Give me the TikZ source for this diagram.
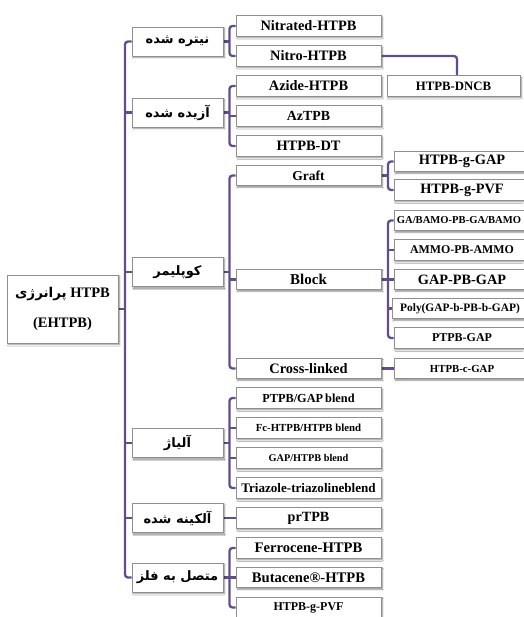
\documentclass[tikz,border=0pt]{standalone}
\usepackage{fontspec}
\setmainfont{Liberation Serif}
\newfontfamily\fafont[Script=Arabic]{DejaVu Sans}
\TeXXeTstate=1
\usetikzlibrary{shadows.blur,backgrounds}
\definecolor{conncol}{HTML}{624D8C}
\definecolor{boxline}{HTML}{8F8F8F}
\newcommand{\fatext}[1]{{\fafont\bfseries\beginR #1\endR}}
\begin{document}
\begin{tikzpicture}[x=1pt,y=-1pt,
  box/.style={draw=boxline, line width=0.6pt, fill=white, inner sep=0pt, align=center,
    blur shadow={shadow xshift=1.4pt, shadow yshift=-1.6pt, shadow blur radius=1.4pt, shadow blur steps=6, shadow opacity=45}},
  fs/.style={font=\bfseries\fontsize{#1pt}{#1pt}\selectfont},
  lone/.style={box, minimum width=91pt, minimum height=29pt, fs=13},
  ltwo/.style={box, minimum width=145pt, minimum height=20.5pt, fs=14.4},
  lthree/.style={box, minimum width=136pt, minimum height=20.5pt, fs=14.4},
  conn/.style={draw=conncol, line width=2.3pt, rounded corners=3pt}]
\useasboundingbox (0,0) rectangle (523,617);
\coordinate (tr) at (125,0);
\coordinate (bx) at (229.5,0);
\coordinate (cx) at (388,0);
% root
\node[box, minimum width=111pt, minimum height=68pt, font=\bfseries\fontsize{14.5pt}{30pt}\selectfont] (root) at (62.5,309) {\fatext{\fontsize{13.5pt}{30pt}\selectfont پرانرژی} HTPB\\(EHTPB)};
% level 1
\node[lone] (A) at (177.5,41.5) {\fatext{نیتره شده}};
\node[lone] (B) at (177.5,112.5) {\fatext{آزیده شده}};
\node[lone] (C) at (177.5,272) {\fatext{کوپلیمر}};
\node[lone] (D) at (177.5,443) {\fatext{آلیاژ}};
\node[lone] (E) at (177.5,518) {\fatext{آلکینه شده}};
\node[lone] (F) at (177.5,577.5) {\fatext{متصل به فلز}};
% level 2
\node[ltwo] (a1) at (308.5,26) {Nitrated-HTPB};
\node[ltwo] (a2) at (308.5,56) {Nitro-HTPB};
\node[ltwo] (b1) at (308.5,86) {Azide-HTPB};
\node[ltwo, fs=13.9] (b2) at (308.5,116) {AzTPB};
\node[ltwo] (b3) at (308.5,146) {HTPB-DT};
\node[ltwo, fs=13.6] (c1) at (308.5,175.5) {Graft};
\node[ltwo, fs=15] (c2) at (308.5,279.5) {Block};
\node[ltwo] (c3) at (308.5,368.5) {Cross-linked};
\node[ltwo, fs=12.3] (d1) at (308.5,398) {PTPB/GAP\,blend};
\node[ltwo, fs=10.8] (d2) at (308.5,428) {Fc-HTPB/HTPB blend};
\node[ltwo, fs=10.3] (d3) at (308.5,458) {GAP/HTPB blend};
\node[ltwo, fs=13.1] (d4) at (308.5,488) {Triazole-triazolineblend};
\node[ltwo, fs=14.1] (e1) at (308.5,518) {prTPB};
\node[ltwo, fs=14.6] (f1) at (308.5,548) {Ferrocene-HTPB};
\node[ltwo, fs=14.6] (f2) at (308.5,577.5) {Butacene®-HTPB};
\node[ltwo, fs=12] (f3) at (308.5,607.5) {HTPB-g-PVF};
% level 3
\node[box, minimum width=133pt, minimum height=20.5pt, fs=12.8] (dn) at (453.5,86) {HTPB-DNCB};
\node[lthree] (g1) at (462,161.5) {HTPB-g-GAP};
\node[lthree, fs=14.3] (g2) at (462,190) {HTPB-g-PVF};
\node[lthree, fs=10.6] (h1) at (462,220.5) {\makebox[0pt]{\hspace*{-6pt}GA/BAMO-PB-GA/BAMO}};
\node[lthree, fs=11.9] (h2) at (462,250) {AMMO-PB-AMMO};
\node[lthree, fs=14.3] (h3) at (462,279.5) {GAP-PB-GAP};
\node[lthree, fs=11.4] (h4) at (460,308.5) {Poly(GAP-b-PB-b-GAP)};
\node[lthree, fs=12] (h5) at (462,338) {PTPB-GAP};
\node[lthree, fs=10.8] (i1) at (462,368.5) {HTPB-c-GAP};
\begin{scope}[on background layer]
\fill[white] (0,0) rectangle (523,617);
% trunk
\draw[conn] (A.west) -- (A.west -| tr) |- (F.west);
\foreach \n in {B,C,D,E} \draw[conn] (\n.west) -- (\n.west -| tr);
\draw[conn] (root.east) -- (root.east -| tr);
% level 1 -> level 2
\draw[conn] (a1.west) -- (a1.west -| bx) |- (a2.west);
\draw[conn] (A.east) -- (A.east -| bx);
\draw[conn] (b1.west) -- (b1.west -| bx) |- (b3.west);
\draw[conn] (B.east) -- (B.east -| bx);
\draw[conn] (b2.west) -- (b2.west -| bx);
\draw[conn] (c1.west) -- (c1.west -| bx) |- (c3.west);
\draw[conn] (C.east) -- (C.east -| bx);
\draw[conn] (c2.west) -- (c2.west -| bx);
\draw[conn] (d1.west) -- (d1.west -| bx) |- (d4.west);
\draw[conn] (D.east) -- (D.east -| bx);
\foreach \n in {d2,d3} \draw[conn] (\n.west) -- (\n.west -| bx);
\draw[conn] (E.east) -- (e1.west);
\draw[conn] (f1.west) -- (f1.west -| bx) |- (f3.west);
\draw[conn] (F.east) -- (F.east -| bx);
\draw[conn] (f2.west) -- (f2.west -| bx);
% level 2 -> level 3
\draw[conn] (a2.east) -| ([xshift=3.5pt]dn.north);
\draw[conn] (g1.west) -- (g1.west -| cx) |- (g2.west);
\draw[conn] (c1.east) -- (c1.east -| cx);
\draw[conn] (h1.west) -- (h1.west -| cx) |- (h5.west);
\draw[conn] (c2.east) -- (c2.east -| cx);
\foreach \n in {h2,h3,h4} \draw[conn] (\n.west) -- (\n.west -| cx);
\draw[conn] (c3.east) -- (i1.west);
\end{scope}
\end{tikzpicture}
\end{document}
